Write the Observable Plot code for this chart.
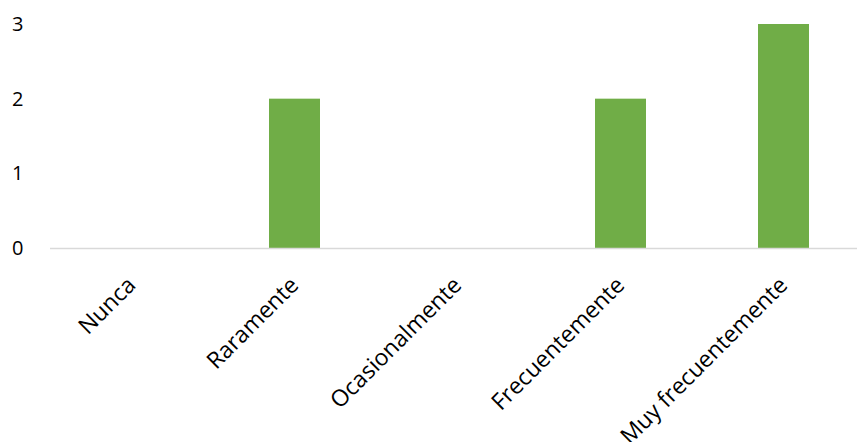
<!DOCTYPE html>
<html>
<head>
<meta charset="utf-8">
<script src="https://cdn.jsdelivr.net/npm/d3@7"></script>
<script src="https://cdn.jsdelivr.net/npm/@observablehq/plot@0.6"></script>
<style>
  html, body { margin: 0; padding: 0; background: #fff; }
  svg { display: block; }
</style>
</head>
<body>
<div id="chart"></div>
<script>
const categories = ["Nunca", "Raramente", "Ocasionalmente", "Frecuentemente", "Muy frecuentemente"];
const values = [0, 2, 0, 2, 3];
const yTicks = [0, 1, 2, 3];

const data = categories.map((c, i) => ({category: c, value: values[i]}));

const chart = Plot.plot({
  width: 857,
  height: 442,
  marginLeft: 50,
  marginRight: 0,
  marginTop: 24,
  marginBottom: 194,
  style: {fontFamily: "'Open Sans', sans-serif", background: "#fff"},
  x: {domain: categories, range: [50, 865], paddingInner: 0.687, paddingOuter: 0.3435, axis: null},
  y: {domain: [0, 3], axis: null},
  marks: [
    Plot.barY(data, {x: "category", y: "value", fill: "#70AD47"}),
    Plot.ruleY([0], {stroke: "#D9D9D9", strokeWidth: 1.5}),
    Plot.axisY({ticks: yTicks, label: null, tickSize: 0, tickPadding: 27, fontSize: 20, fill: "#000", tickFormat: d3.format("d")}),
    Plot.text(categories, {
      x: d => d,
      frameAnchor: "bottom",
      dy: 38,
      dx: 5,
      rotate: -45,
      textAnchor: "end",
      lineAnchor: "bottom",
      fontSize: 23,
      fill: "#000"
    })
  ]
});
document.getElementById("chart").appendChild(chart);
</script>
</body>
</html>
